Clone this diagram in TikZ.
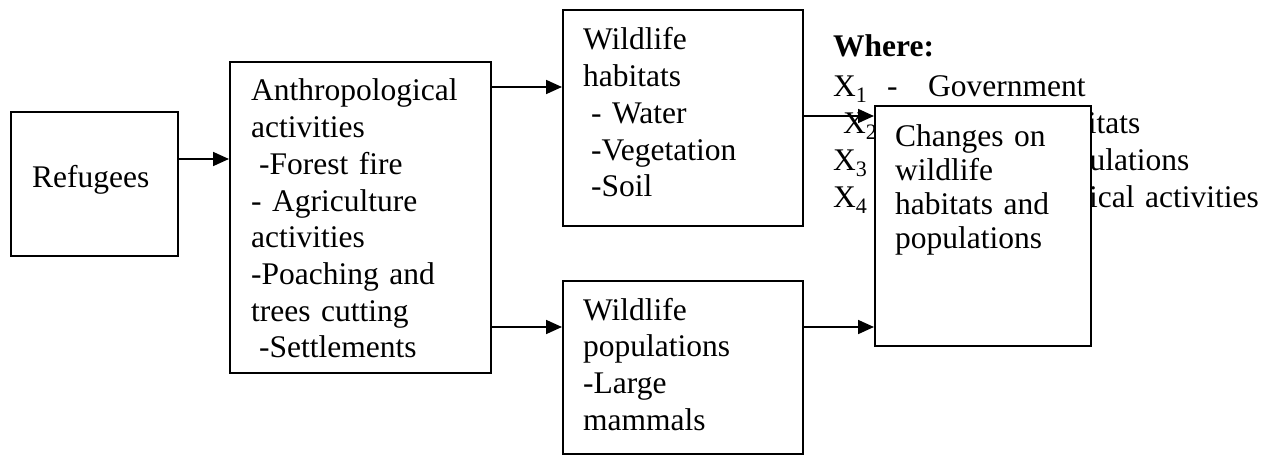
\documentclass[tikz,border=0pt]{standalone}
\usepackage{fontspec}
\setmainfont{Liberation Serif}
\usetikzlibrary{arrows.meta}
\newcommand{\whereline}[3]{\makebox[54pt][l]{\hspace*{#1}X\textsubscript{#2}}\makebox[41pt][l]{-}#3}
\begin{document}
\begin{tikzpicture}[x=1pt, y=-1pt,
  box/.style={rectangle, draw, line width=2pt, fill=white, inner sep=0pt, anchor=north west},
  txt/.style={anchor=base west, inner sep=0pt, align=left, text width=260pt,
    font={\fontsize{31.5pt}{36.7pt}\selectfont}},
  arrow/.style={line width=1.8pt, -{Triangle[length=16pt, width=14pt]}}]
\useasboundingbox (0,0) rectangle (1277,457);
% legend, partly hidden by the last box
\node [txt, text width=450pt] (where) at (833,57) {\textbf{Where:}\\[3.3pt]
  \whereline{0pt}{1}{Government}\\
  \whereline{10pt}{2}{Wildlife habitats}\\
  \whereline{0pt}{3}{Wildlife populations}\\
  \whereline{0pt}{4}{Anthropological activities}};
\node [box, minimum width=167pt, minimum height=144pt] (refugees) at (10,111) {};
\node [box, minimum width=261pt, minimum height=311pt] (anthro) at (229,61) {};
\node [box, minimum width=240pt, minimum height=216pt] (habitats) at (562,9) {};
\node [box, minimum width=240pt, minimum height=173pt] (popul) at (562,280) {};
\node [box, minimum width=216pt, minimum height=240pt] (changes) at (874,105) {};
\node [txt] (reftext) at (32,188) {Refugees};
\node [txt] (anthrotext) at (251,101) {Anthropological\\activities\\\hspace*{8pt}-Forest fire\\- Agriculture\\activities\\-Poaching and\\trees cutting\\\hspace*{8pt}-Settlements};
\node [txt] (habtext) at (583,50) {Wildlife\\habitats\\\hspace*{8pt}- Water\\\hspace*{8pt}-Vegetation\\\hspace*{8pt}-Soil};
\node [txt] (poptext) at (583,320) {Wildlife\\populations\\-Large\\mammals};
\node [txt, font={\fontsize{31.5pt}{33.7pt}\selectfont}] (changetext) at (895,147) {Changes on\\wildlife\\habitats and\\populations};
\draw [arrow] (refugees.east |- 0,159) -- (anthro.west |- 0,159);
\draw [arrow] (anthro.east |- 0,87) -- (habitats.west |- 0,87);
\draw [arrow] (anthro.east |- 0,327) -- (popul.west |- 0,327);
\draw [arrow] (habitats.east |- 0,116) -- (changes.west |- 0,116);
\draw [arrow] (popul.east |- 0,327) -- (changes.west |- 0,327);
\end{tikzpicture}
\end{document}
